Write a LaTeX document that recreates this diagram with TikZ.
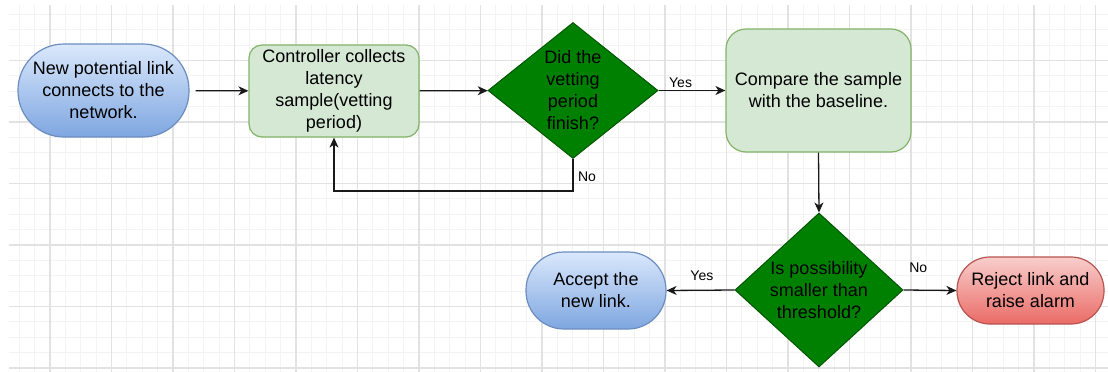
\documentclass[tikz,border=0pt]{standalone}
\usepackage{fontspec}
\setmainfont{Liberation Sans}
\usetikzlibrary{shapes.geometric,arrows.meta}

\definecolor{gridminor}{HTML}{F3F3F3}
\definecolor{gridmajor}{HTML}{E2E2E2}
\definecolor{blueTop}{HTML}{DAE8FC}
\definecolor{blueBot}{HTML}{7EA6E0}
\definecolor{blueLine}{HTML}{6C8EBF}
\definecolor{greenFill}{HTML}{D5E8D4}
\definecolor{greenLine}{HTML}{82B366}
\definecolor{decFill}{HTML}{008000}
\definecolor{decLine}{HTML}{005700}
\definecolor{redTop}{HTML}{F8CECC}
\definecolor{redBot}{HTML}{EA6B66}
\definecolor{redLine}{HTML}{B85450}

\tikzset{
  txt/.style={font=\fontsize{18}{22}\selectfont, align=center, text=black},
  terminal/.style={txt, rectangle, draw=blueLine, line width=1.2pt,
    top color=blueTop, bottom color=blueBot, inner sep=0pt},
  process/.style={txt, rectangle, draw=greenLine, fill=greenFill,
    line width=1.2pt, inner sep=0pt},
  decision/.style={diamond, draw=decLine, fill=decFill, line width=1pt,
    inner sep=0pt},
  alarm/.style={txt, rectangle, draw=redLine, line width=1.2pt,
    top color=redTop, bottom color=redBot, inner sep=0pt},
  flow/.style={line width=1.3pt, draw=black!90,
    -{Stealth[length=10pt,width=9pt,inset=3pt]}},
  lbl/.style={font=\fontsize{14}{16}\selectfont, text=black, inner sep=0pt},
}

\begin{document}
\begin{tikzpicture}[x=1pt,y=-1pt]
  \useasboundingbox (0,0) rectangle (1108,372);
  \fill[white] (0,0) rectangle (1108,372);

  % background grid
  \begin{scope}
    \clip (9,5) rectangle (1108,372);
    \foreach \i in {1,...,71} {
      \pgfmathsetmacro\gx{3.875+15.375*\i}
      \draw[gridminor, line width=1pt] (\gx,0) -- (\gx,372);
    }
    \foreach \i in {0,...,23} {
      \pgfmathsetmacro\gy{14.375+15.375*\i}
      \draw[gridminor, line width=1pt] (0,\gy) -- (1108,\gy);
    }
    \foreach \i in {0,...,17} {
      \pgfmathsetmacro\gx{50+61.5*\i}
      \draw[gridmajor, line width=1.2pt] (\gx,0) -- (\gx,372);
    }
    \foreach \i in {1,...,6} {
      \pgfmathsetmacro\gy{-1+61.5*\i}
      \draw[gridmajor, line width=1.2pt] (0,\gy) -- (1108,\gy);
    }
  \end{scope}

  % nodes
  \node[terminal, minimum width=171pt, minimum height=93pt, rounded corners=46pt]
    (start) at (103.5,90.5) {New potential link\\connects to the\\network.};
  \node[process, minimum width=170pt, minimum height=92pt, rounded corners=13pt]
    (ctrl) at (334,91) {Controller collects\\latency\\sample(vetting\\period)};
  \node[decision, minimum width=170pt, minimum height=136pt]
    (d1) at (573,90.5) {};
  \node[txt] (d1t) at (d1.center) {Did the\\vetting\\period\\finish?};
  \node[process, minimum width=185pt, minimum height=123pt, rounded corners=20pt]
    (cmp) at (818.5,90.5) {Compare the sample\\with the baseline.};
  \node[decision, minimum width=168pt, minimum height=154pt]
    (d2) at (819,290) {};
  \node[txt] (d2t) at (d2.center) {Is possibility\\smaller than\\threshold?};
  \node[terminal, minimum width=140pt, minimum height=77pt, rounded corners=38pt]
    (acc) at (596,290.5) {Accept the\\new link.};
  \node[alarm, minimum width=147pt, minimum height=67pt, rounded corners=33pt]
    (rej) at (1030.5,290.5) {Reject link and\\raise alarm};

  % connectors
  \draw[flow, shorten <=6pt] (start) -- (ctrl);
  \draw[flow] (ctrl) -- (d1);
  \draw[flow] (d1.east) -- node[lbl, pos=0.33, yshift=8pt] (yes1) {Yes} (cmp.west);
  \draw[flow] (d1.south) -- node[lbl, pos=0.56, xshift=14pt] (no1) {No}
    ++(0,32) -| (ctrl.south);
  \draw[flow] (cmp.south) -- (d2.north);
  \draw[flow] (d2.west) -- node[lbl, pos=0.48, yshift=14pt] (yes2) {Yes} (acc.east);
  \draw[flow] (d2.east) -- node[lbl, pos=0.28, yshift=22pt] (no2) {No} (rej.west);
\end{tikzpicture}
\end{document}
